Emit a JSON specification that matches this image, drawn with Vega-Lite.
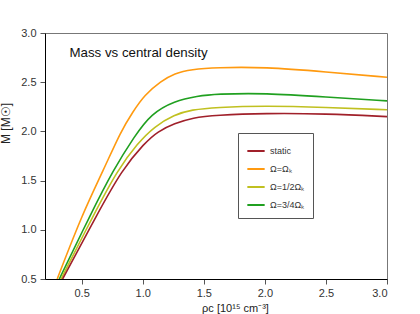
{
  "$schema": "https://vega.github.io/schema/vega-lite/v6.json",
  "autosize": "none",
  "width": 342,
  "height": 246,
  "padding": {"left": 45, "top": 33, "right": 33, "bottom": 35},
  "background": "white",
  "config": {
    "font": "Liberation Sans",
    "view": {"stroke": "#777777", "strokeWidth": 1},
    "axis": {"grid": false, "labelFont": "Liberation Sans", "titleFont": "Liberation Sans", "labelColor": "#333333", "titleColor": "#222222", "labelFontSize": 11, "titleFontSize": 12, "titleFontWeight": "normal", "domainColor": "#000000", "tickColor": "#555555", "tickSize": 5}
  },
  "datasets": {
    "curves": [
      {"rho": 0.30, "M": 0.5, "s": "Ω=Ωₖ"},
      {"rho": 0.508, "M": 1.167, "s": "Ω=Ωₖ"},
      {"rho": 0.68, "M": 1.61, "s": "Ω=Ωₖ"},
      {"rho": 0.82, "M": 2.0, "s": "Ω=Ωₖ"},
      {"rho": 0.92, "M": 2.2, "s": "Ω=Ωₖ"},
      {"rho": 1.014, "M": 2.37, "s": "Ω=Ωₖ"},
      {"rho": 1.15, "M": 2.51, "s": "Ω=Ωₖ"},
      {"rho": 1.26, "M": 2.59, "s": "Ω=Ωₖ"},
      {"rho": 1.4, "M": 2.63, "s": "Ω=Ωₖ"},
      {"rho": 1.6, "M": 2.65, "s": "Ω=Ωₖ"},
      {"rho": 2.0, "M": 2.655, "s": "Ω=Ωₖ"},
      {"rho": 2.5, "M": 2.605, "s": "Ω=Ωₖ"},
      {"rho": 3.0, "M": 2.55, "s": "Ω=Ωₖ"},
      {"rho": 0.317, "M": 0.5, "s": "Ω=3/4Ωₖ"},
      {"rho": 0.577, "M": 1.167, "s": "Ω=3/4Ωₖ"},
      {"rho": 0.76, "M": 1.61, "s": "Ω=3/4Ωₖ"},
      {"rho": 0.932, "M": 1.95, "s": "Ω=3/4Ωₖ"},
      {"rho": 1.069, "M": 2.18, "s": "Ω=3/4Ωₖ"},
      {"rho": 1.26, "M": 2.31, "s": "Ω=3/4Ωₖ"},
      {"rho": 1.45, "M": 2.36, "s": "Ω=3/4Ωₖ"},
      {"rho": 1.6, "M": 2.38, "s": "Ω=3/4Ωₖ"},
      {"rho": 2.0, "M": 2.39, "s": "Ω=3/4Ωₖ"},
      {"rho": 2.5, "M": 2.35, "s": "Ω=3/4Ωₖ"},
      {"rho": 3.0, "M": 2.31, "s": "Ω=3/4Ωₖ"},
      {"rho": 0.331, "M": 0.5, "s": "Ω=1/2Ωₖ"},
      {"rho": 0.604, "M": 1.167, "s": "Ω=1/2Ωₖ"},
      {"rho": 0.795, "M": 1.61, "s": "Ω=1/2Ωₖ"},
      {"rho": 0.959, "M": 1.88, "s": "Ω=1/2Ωₖ"},
      {"rho": 1.096, "M": 2.05, "s": "Ω=1/2Ωₖ"},
      {"rho": 1.26, "M": 2.17, "s": "Ω=1/2Ωₖ"},
      {"rho": 1.4, "M": 2.22, "s": "Ω=1/2Ωₖ"},
      {"rho": 1.6, "M": 2.245, "s": "Ω=1/2Ωₖ"},
      {"rho": 2.0, "M": 2.26, "s": "Ω=1/2Ωₖ"},
      {"rho": 2.5, "M": 2.245, "s": "Ω=1/2Ωₖ"},
      {"rho": 3.0, "M": 2.22, "s": "Ω=1/2Ωₖ"},
      {"rho": 0.344, "M": 0.5, "s": "static"},
      {"rho": 0.631, "M": 1.167, "s": "static"},
      {"rho": 0.83, "M": 1.61, "s": "static"},
      {"rho": 1.014, "M": 1.88, "s": "static"},
      {"rho": 1.123, "M": 2.0, "s": "static"},
      {"rho": 1.26, "M": 2.08, "s": "static"},
      {"rho": 1.41, "M": 2.14, "s": "static"},
      {"rho": 1.6, "M": 2.165, "s": "static"},
      {"rho": 2.0, "M": 2.185, "s": "static"},
      {"rho": 2.5, "M": 2.18, "s": "static"},
      {"rho": 3.0, "M": 2.15, "s": "static"}
    ]
  },
  "layer": [
    {
      "data": {"name": "curves"},
      "mark": {"type": "line", "interpolate": "basis", "strokeWidth": 1.6, "clip": true},
      "encoding": {
        "x": {"field": "rho", "type": "quantitative", "scale": {"domain": [0.2, 3.0], "nice": false, "zero": false},
              "axis": {"values": [0.5, 1.0, 1.5, 2.0, 2.5, 3.0], "format": ".1f", "title": "ρc [10¹⁵ cm⁻³]", "titleX": 190, "titleY": 34, "titleBaseline": "bottom", "titleFontSize": 11, "labelPadding": 3}},
        "y": {"field": "M", "type": "quantitative", "scale": {"domain": [0.5, 3.0], "nice": false, "zero": false},
              "axis": {"values": [0.5, 1.0, 1.5, 2.0, 2.5, 3.0], "format": ".1f", "title": "M [M☉]", "titleX": -33, "titleY": 90, "labelPadding": 4}},
        "color": {"field": "s", "type": "nominal",
                  "scale": {"domain": ["static", "Ω=Ωₖ", "Ω=1/2Ωₖ", "Ω=3/4Ωₖ"], "range": ["#a0202a", "#ff9a10", "#c0c020", "#20a020"]},
                  "legend": {"title": null, "orient": "none", "legendX": 193, "legendY": 100, "symbolType": "stroke", "symbolSize": 300, "symbolStrokeWidth": 2, "labelFontSize": 9, "labelColor": "#333333", "strokeColor": "#555555", "padding": 8, "rowPadding": 3, "fillColor": "white"}}
      }
    },
    {
      "data": {"values": [{"x": 0.4, "y": 2.8, "t": "Mass vs central density"}]},
      "mark": {"type": "text", "align": "left", "baseline": "middle", "fontSize": 13.3, "color": "#111111"},
      "encoding": {"x": {"field": "x", "type": "quantitative"}, "y": {"field": "y", "type": "quantitative"}, "text": {"field": "t"}}
    }
  ]
}
